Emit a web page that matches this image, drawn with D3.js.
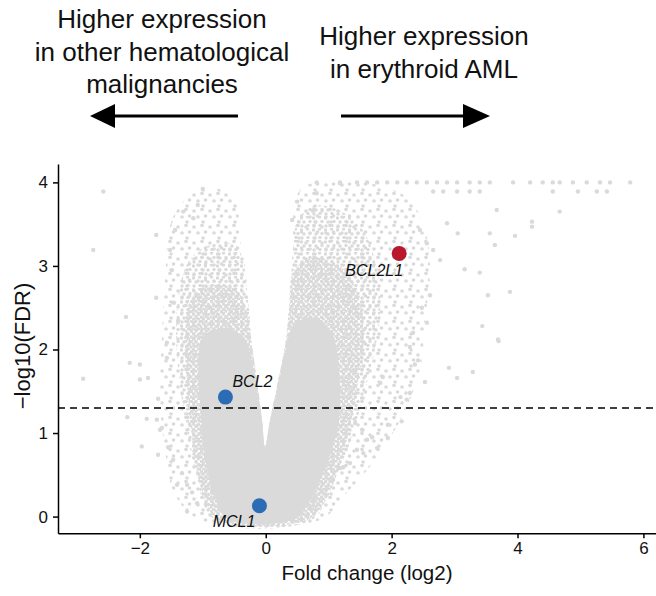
<!DOCTYPE html>
<html>
<head>
<meta charset="utf-8">
<script src="https://cdn.jsdelivr.net/npm/d3@7"></script>
<style>
  body { margin: 0; background: #fff; }
  svg { display: block; font-family: "Liberation Sans", Arial, Helvetica, sans-serif; }
</style>
</head>
<body>
<svg id="chart" width="656" height="596"></svg>
<script>
// header captions
const headerLeft = ["Higher expression", "in other hematological", "malignancies"];
const headerRight = ["Higher expression", "in erythroid AML"];

// axes
const xTicks = [-2, 0, 2, 4, 6];
const yTicks = [0, 1, 2, 3, 4];
const fdrCutoff = 1.301; // -log10(0.05)

// highlighted genes
const genes = ["BCL2L1", "BCL2", "MCL1"];
const geneFC = [2.12, -0.64, -0.1];
const geneLogFDR = [3.15, 1.43, 0.13];
const geneUp = [true, false, false];

// background cloud: outlines of the zones from solid core to sparse edge [fc, -log10FDR]
const coreOutline = [[-0.60,-0.03],[-0.85,0.32],[-0.96,0.68],[-1.01,1.04],[-1.05,1.40],[-1.07,1.80],[-1.00,2.15],
  [-0.70,2.25],[-0.35,2.15],[-0.22,1.85],[-0.12,1.45],[-0.06,1.16],[-0.01,0.83],[0.07,1.16],[0.18,1.50],
  [0.30,1.95],[0.45,2.30],[0.75,2.38],[1.05,2.20],[1.16,1.75],[1.18,1.30],[1.10,0.92],[0.91,0.52],[0.66,0.14],
  [0.47,-0.03]];
const heavyOutline = [[-0.75,-0.04],[-1.05,0.40],[-1.18,1.00],[-1.25,1.60],[-1.28,2.20],[-1.15,2.65],[-0.80,2.78],
  [-0.45,2.70],[-0.30,2.45],[-0.22,2.05],[-0.14,1.64],[-0.06,1.16],[-0.01,0.83],[0.07,1.16],[0.20,1.64],
  [0.31,2.05],[0.37,2.50],[0.45,2.95],[0.80,3.10],[1.25,2.95],[1.50,2.55],[1.55,2.05],[1.45,1.55],[1.33,1.05],
  [1.15,0.55],[0.92,0.15],[0.66,-0.04]];
const denseOutline = [[-0.81,-0.04],[-1.12,0.56],[-1.28,1.16],[-1.39,1.75],[-1.42,2.35],[-1.34,2.83],[-1.18,3.10],
  [-0.88,3.25],[-0.48,3.25],[-0.36,3.05],[-0.28,2.59],[-0.22,2.05],[-0.14,1.64],[-0.06,1.16],[-0.01,0.83],
  [0.07,1.16],[0.20,1.64],[0.31,2.05],[0.39,2.59],[0.43,3.19],[0.51,3.55],[0.78,3.72],[1.18,3.66],[1.55,3.42],
  [1.75,3.02],[1.82,2.59],[1.76,2.10],[1.62,1.64],[1.45,1.16],[1.26,0.74],[1.02,0.32],[0.73,-0.04]];
const sparseOutline = [[-1.04,-0.04],[-1.44,0.26],[-1.60,0.80],[-1.68,1.40],[-1.65,2.11],[-1.60,2.83],[-1.49,3.55],
  [-1.20,3.85],[-0.85,3.94],[-0.49,3.79],[-0.41,3.31],[-0.36,3.19],[-0.28,2.59],[-0.22,2.05],[-0.14,1.64],
  [-0.06,1.16],[-0.01,0.83],[0.07,1.16],[0.20,1.64],[0.31,2.05],[0.39,2.59],[0.43,3.19],[0.47,3.79],[0.62,3.96],
  [1.18,4.00],[1.82,3.96],[2.29,3.79],[2.53,3.43],[2.61,2.95],[2.53,2.35],[2.45,1.75],[2.14,1.16],[1.74,0.68],
  [1.26,0.26],[0.86,-0.04]];

// background genes lying outside the cloud
const bgFC = [-2.58,-2.74,-1.74,-1.74,-2.22,-1.57,-1.00,-1.31,-1.15,-1.08,-1.44,-1.52,-1.49,-1.46,-1.39,
  0.50,0.42,0.81,1.18,0.75,
  -2.90,-2.20,-1.97,-1.89,-1.73,-1.68,-2.00,-1.87,-1.71,-1.65,-1.57,-1.41,-1.25,-1.17,-1.25,-1.09,-1.71,-1.47,-1.33,-1.55,-2.00,-2.16,
  3.29,3.04,2.91,2.53,2.42,2.37,2.29,2.14,2.24,1.94,1.94,1.77,2.16,1.69,1.61,1.55,1.45,1.34,1.23,1.53,1.42,1.82,1.86,2.29,3.69,0.89,0.75,0.70,1.07,1.18,
  0.81,1.18,1.45,1.61,1.77,1.93,2.09,2.24,2.40,2.56,2.72,2.88,3.04,3.24,3.40,3.56,3.93,4.20,4.40,4.56,4.67,4.88,5.10,5.31,5.47,5.79,
  2.66,2.82,3.04,3.24,3.40,4.56,4.96,5.26,5.42,
  3.67,4.67,4.23,4.23,2.88,3.05,3.56,3.96,3.64,2.56,2.66,3.16,3.40,3.53,3.88,3.44,3.70,2.61,2.56,2.34,2.48,2.77,2.45];
const bgLogFDR = [3.89,3.19,3.37,2.62,2.39,2.08,3.92,3.65,3.57,3.73,3.43,3.19,2.95,2.56,2.35,
  3.77,3.55,3.87,3.99,3.66,
  1.65,1.19,0.84,1.17,1.16,1.04,1.64,1.66,1.41,1.06,1.90,0.38,0.38,0.29,0.06,0.16,0.74,0.68,0.52,0.83,1.82,1.84,
  1.73,1.66,1.78,1.61,1.87,1.82,1.48,1.43,1.40,1.10,0.94,0.82,1.14,0.95,0.92,0.76,0.80,0.64,0.59,1.04,1.12,1.60,1.67,2.03,2.12,0.30,0.20,0.10,0.44,0.58,
  4,4,4,4,4,4,4,4,4,4,4,4,4,4,4,4,4,4,4,4,4,4,4,4,4,4,
  3.89,3.89,3.89,3.89,3.89,3.89,3.89,3.89,3.89,
  3.67,3.65,3.53,3.47,3.51,3.39,3.39,3.36,3.25,3.27,3.19,2.96,2.92,2.65,2.69,2.28,2.10,2.65,2.32,2.20,2.50,3.07,3.43];

const svg = d3.select('#chart');
const grey = '#dadada';
const font = '"Liberation Sans", Arial, sans-serif';

const x = d3.scaleLinear().domain([-3.3, 6.2]).range([58, 656]);
const y = d3.scaleLinear().domain([-0.2, 4.22]).range([533.3, 164]);

// dot textures for the point cloud
const defs = svg.append('defs');
function dotPattern(id, size, r, dots) {
    const p = defs.append('pattern').attr('id', id)
        .attr('patternUnits', 'userSpaceOnUse').attr('width', size).attr('height', size);
    dots.forEach(d => p.append('circle').attr('cx', d[0]).attr('cy', d[1]).attr('r', r).attr('fill', grey));
}
dotPattern('heavy', 10, 1.65, [[1.5, 1.5], [6, 1], [3.5, 4], [8.5, 4.5], [1, 7], [6, 6.5], [3.5, 9.5], [8.5, 9]]);
dotPattern('dense', 12, 1.7, [[1.5, 2], [7.5, 1], [4, 6], [10, 5.5], [2, 10], [8, 9.5]]);
dotPattern('sparse', 16, 1.8, [[2, 3], [10, 1.5], [6, 9], [13.5, 8], [11, 14]]);

const line = d3.line().x(d => x(d[0])).y(d => y(d[1])).curve(d3.curveCatmullRomClosed.alpha(0.5));

svg.append('path').attr('d', line(sparseOutline)).attr('fill', 'url(#sparse)');
svg.append('path').attr('d', line(denseOutline)).attr('fill', 'url(#dense)');
svg.append('path').attr('d', line(heavyOutline)).attr('fill', 'url(#heavy)');
svg.append('path').attr('d', line(coreOutline)).attr('fill', grey);

svg.append('g').selectAll('circle')
    .data(bgFC.map((v, i) => [v, bgLogFDR[i]]))
    .join('circle')
    .attr('cx', d => x(d[0]))
    .attr('cy', d => y(d[1]))
    .attr('r', 2.2)
    .attr('fill', grey);

// significance threshold
svg.append('line')
    .attr('x1', x.range()[0]).attr('x2', x.range()[1])
    .attr('y1', y(fdrCutoff)).attr('y2', y(fdrCutoff))
    .attr('stroke', '#000').attr('stroke-width', 1.5)
    .attr('stroke-dasharray', '7,5');

// axes
const xAxis = svg.append('g')
    .attr('transform', `translate(0,${y.range()[0]})`)
    .call(d3.axisBottom(x).tickValues(xTicks).tickFormat(d3.format('d')).tickSize(5).tickSizeOuter(0).tickPadding(4));
const yAxis = svg.append('g')
    .attr('transform', `translate(${x.range()[0]},0)`)
    .call(d3.axisLeft(y).tickValues(yTicks).tickFormat(d3.format('d')).tickSize(5).tickSizeOuter(0).tickPadding(5));
[xAxis, yAxis].forEach(a => {
    a.selectAll('path, line').attr('stroke', '#000').attr('stroke-width', 1.5);
    a.selectAll('text').attr('font-size', 17).attr('fill', '#111').attr('font-family', font);
});

svg.append('text')
    .attr('x', 367).attr('y', 580)
    .attr('text-anchor', 'middle').attr('font-size', 20.5).attr('fill', '#111')
    .text('Fold change (log2)');
svg.append('text')
    .attr('transform', 'translate(30,346) rotate(-90)')
    .attr('text-anchor', 'middle').attr('font-size', 22).attr('fill', '#111')
    .text('\u2212log10(FDR)');

// highlighted genes
const labelPos = [{dx: 4, dy: 23, anchor: 'end'}, {dx: 7, dy: -10, anchor: 'start'}, {dx: -4, dy: 21, anchor: 'end'}];
genes.forEach((g, i) => {
    svg.append('circle')
        .attr('cx', x(geneFC[i])).attr('cy', y(geneLogFDR[i]))
        .attr('r', 7.5)
        .attr('fill', geneUp[i] ? '#b8172d' : '#2b6cb4');
    svg.append('text')
        .attr('x', x(geneFC[i]) + labelPos[i].dx)
        .attr('y', y(geneLogFDR[i]) + labelPos[i].dy)
        .attr('text-anchor', labelPos[i].anchor)
        .attr('font-size', 16).attr('font-style', 'italic').attr('fill', '#111')
        .text(g);
});

// header with direction arrows
svg.append('g').selectAll('text')
    .data(headerLeft).join('text')
    .attr('x', 162).attr('y', (d, i) => 28 + i * 32.5)
    .attr('text-anchor', 'middle').attr('font-size', 26).attr('fill', '#111')
    .text(d => d);
svg.append('g').selectAll('text')
    .data(headerRight).join('text')
    .attr('x', 424).attr('y', (d, i) => 45 + i * 32.5)
    .attr('text-anchor', 'middle').attr('font-size', 26).attr('fill', '#111')
    .text(d => d);

const arrowY = 116;
svg.append('line').attr('x1', 112).attr('x2', 238).attr('y1', arrowY).attr('y2', arrowY)
    .attr('stroke', '#000').attr('stroke-width', 3);
svg.append('path').attr('d', `M90,${arrowY} L115,${arrowY - 12} L115,${arrowY + 12} Z`).attr('fill', '#000');
svg.append('line').attr('x1', 341).attr('x2', 466).attr('y1', arrowY).attr('y2', arrowY)
    .attr('stroke', '#000').attr('stroke-width', 3);
svg.append('path').attr('d', `M490,${arrowY} L463,${arrowY - 12} L463,${arrowY + 12} Z`).attr('fill', '#000');
</script>
</body>
</html>
